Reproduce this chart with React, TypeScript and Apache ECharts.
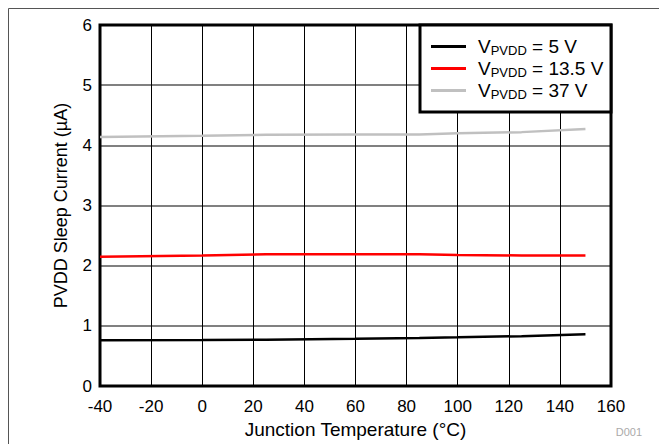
import React, { useEffect, useRef } from "react";
import * as echarts from "echarts";

const temperatures = [-40, 0, 25, 60, 85, 100, 125, 150];
const current5V = [0.76, 0.765, 0.77, 0.785, 0.8, 0.81, 0.83, 0.86];
const current13V5 = [2.15, 2.17, 2.19, 2.19, 2.19, 2.18, 2.17, 2.17];
const current37V = [4.14, 4.16, 4.175, 4.18, 4.18, 4.2, 4.22, 4.27];
const seriesNames = ["5 V", "13.5 V", "37 V"];
const seriesColors = ["#000000", "#ff0000", "#c0c0c0"];
const xTicks = { min: -40, max: 160, interval: 20 };
const yTicks = { min: 0, max: 6, interval: 1 };

const FONT = "'Liberation Sans', Arial, Helvetica, sans-serif";

export default function App() {
  const ref = useRef<HTMLDivElement>(null);
  useEffect(() => {
    if (!ref.current) return;
    const chart = echarts.init(ref.current, undefined, { renderer: "svg" });
    const seriesData = [current5V, current13V5, current37V];
    chart.setOption({
      animation: false,
      textStyle: { fontFamily: FONT },
      grid: {
        left: 92,
        top: 17,
        width: 511,
        height: 362,
        show: true,
        borderColor: "#000",
        borderWidth: 3,
        backgroundColor: "transparent",
        z: 1,
      },
      xAxis: {
        type: "value",
        min: xTicks.min,
        max: xTicks.max,
        interval: xTicks.interval,
        name: "Junction Temperature (°C)",
        nameLocation: "middle",
        nameGap: 31,
        nameTextStyle: { fontSize: 19, color: "#000", fontFamily: FONT },
        axisLine: { show: false },
        axisTick: { show: false },
        axisLabel: { fontSize: 17, color: "#000", margin: 12, fontFamily: FONT },
        splitLine: { show: true, lineStyle: { color: "#000", width: 1 } },
      },
      yAxis: {
        type: "value",
        min: yTicks.min,
        max: yTicks.max,
        interval: yTicks.interval,
        name: "PVDD Sleep Current (µA)",
        nameLocation: "middle",
        nameGap: 30,
        nameTextStyle: { fontSize: 18, color: "#000", fontFamily: FONT },
        axisLine: { show: false },
        axisTick: { show: false },
        axisLabel: { fontSize: 17, color: "#000", margin: 8, fontFamily: FONT },
        splitLine: { show: true, lineStyle: { color: "#808080", width: 2 } },
      },
      legend: {
        orient: "vertical",
        left: 423,
        top: 28,
        padding: 0,
        itemGap: 1,
        itemWidth: 35,
        itemHeight: 3,
        icon: "rect",
        z: 10,
        data: seriesNames.map((n) => n),
        formatter: (name: string) => `{v|V}{s|PVDD}{v| = ${name}}`,
        textStyle: {
          padding: [0, 0, 0, 7],
          rich: {
            v: { fontSize: 19, lineHeight: 21, color: "#000", fontFamily: FONT },
            s: {
              fontSize: 13,
              lineHeight: 21,
              color: "#000",
              fontFamily: FONT,
              padding: [8, 0, 0, 0],
            },
          },
        },
      },
      graphic: [
        {
          type: "rect",
          z: 5,
          shape: { x: 0.5, y: 0.5, width: 900, height: 900 },
          style: { fill: "none", stroke: "#555", lineWidth: 1 },
          silent: true,
        },
        {
          type: "rect",
          z: 5,
          shape: { x: 412, y: 17, width: 191, height: 87 },
          style: { fill: "#fff", stroke: "#000", lineWidth: 3 },
          silent: true,
        },
        {
          type: "text",
          z: 5,
          x: 634,
          y: 424,
          style: {
            text: "D001",
            fill: "#aaa",
            fontSize: 11,
            fontFamily: FONT,
            align: "right",
            verticalAlign: "middle",
          },
          silent: true,
        },
      ],
      series: seriesNames.map((n, i) => ({
        name: n,
        type: "line",
        data: temperatures.map((t, j) => [t, seriesData[i][j]]),
        showSymbol: false,
        symbol: "none",
        lineStyle: { color: seriesColors[i], width: 2.5 },
        itemStyle: { color: seriesColors[i] },
        z: 3,
      })),
    });
    return () => chart.dispose();
  }, []);
  return <div ref={ref} style={{ width: 659, height: 436 }} />;
}
